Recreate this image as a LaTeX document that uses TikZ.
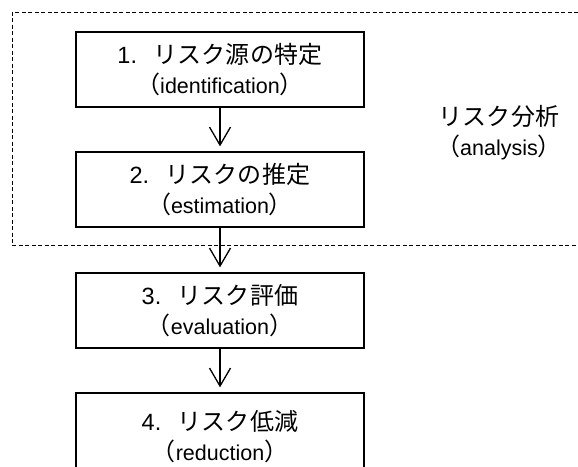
\documentclass[tikz,border=0pt]{standalone}
\usepackage{fontspec}
\setmainfont{Liberation Sans}
\newfontfamily\jp[LetterSpace=1]{Noto Sans CJK JP}
\usetikzlibrary{arrows.meta}
\newcommand{\jpt}[1]{{\fontsize{24}{30}\jp #1}}
\newcommand{\stepno}[1]{{\fontsize{23.5}{30}\selectfont #1.}\hspace{16pt}}
\tikzset{
  stepbox/.style={draw, line width=1.3pt, minimum width=288pt, minimum height=75pt,
    align=center, inner sep=0pt, font=\fontsize{21.5}{30}\selectfont},
  flow/.style={line width=1.3pt, -{Straight Barb[length=18pt,width=21pt]}, shorten >=5pt},
}
\begin{document}
\begin{tikzpicture}[x=1pt, y=-1pt, every node/.style={black}]
	\useasboundingbox (0,0) rectangle (578,466);

	\coordinate (dtr) at (578,12);
	\coordinate (dtl) at (12,12);
	\coordinate (dbl) at (12,245);
	\coordinate (dbr) at (578,245);
	\draw[line width=1pt, dash pattern=on 4pt off 2.5pt] (dtr) -- (dtl) -- (dbl) -- (dbr);

	\node[stepbox] (ident) at (220,69.5) {\stepno{1}\jpt{リスク源の特定}\\\jpt{（}identification\jpt{）}};
	\node[stepbox] (estim) at (220,189.5) {\stepno{2}\jpt{リスクの推定}\\\jpt{（}estimation\jpt{）}};
	\node[stepbox] (evalu) at (220,310.5) {\stepno{3}\jpt{リスク評価}\\\jpt{（}evaluation\jpt{）}};
	\node[stepbox, minimum height=87pt] (reduc) at (220,436.5) {\stepno{4}\jpt{リスク低減}\\\jpt{（}reduction\jpt{）}};

	\node[align=center, font=\fontsize{21.5}{30}\selectfont] (anal) at (499,133) {\jpt{リスク分析}\\\jpt{（}analysis\jpt{）}};

	\draw[flow] (ident) -- (estim);
	\draw[flow] (estim) -- (evalu);
	\draw[flow] (evalu) -- (reduc);
\end{tikzpicture}
\end{document}
